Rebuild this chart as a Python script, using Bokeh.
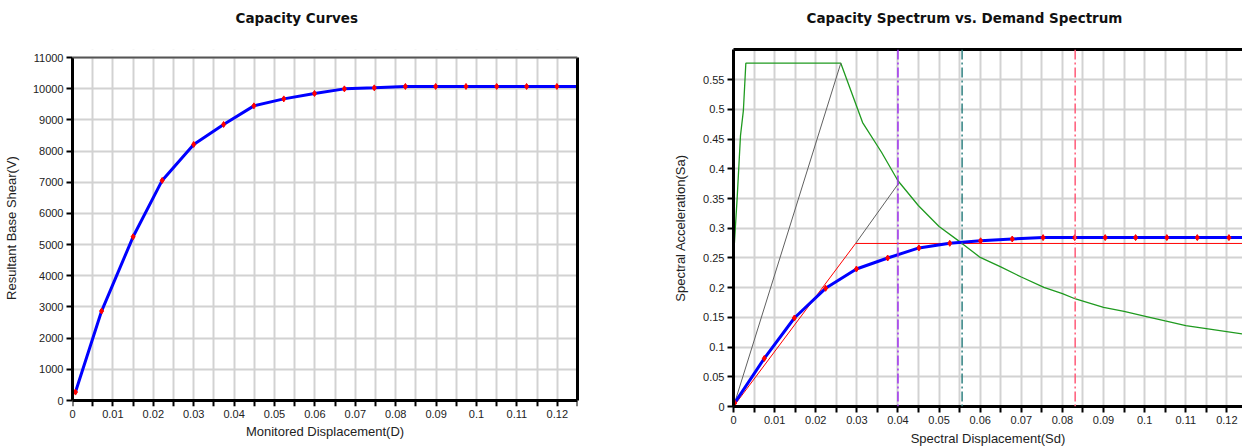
from bokeh.plotting import figure
from bokeh.models import FixedTicker, LinearAxis, Span, Range1d, BoxAnnotation
from bokeh.layouts import row
from bokeh.embed import file_html
from bokeh.resources import INLINE

# ---------------- data: capacity curve (left) ----------------
disp = [0.00074, 0.0072, 0.0150, 0.0222, 0.0300, 0.0374, 0.0449, 0.0523, 0.0599,
        0.0673, 0.0747, 0.0824, 0.0899, 0.0974, 0.1050, 0.1124, 0.1199]
shear = [270, 2869, 5250, 7058, 8212, 8853, 9449, 9673, 9846,
         9994, 10026, 10071, 10071, 10071, 10071, 10071, 10071]
disp_tail = [0.1270]
shear_tail = [10071]

# ---------------- data: capacity / demand spectrum (right) ----------------
sd = [0.0003, 0.0075, 0.0148, 0.0224, 0.0299, 0.0375, 0.0451, 0.0526, 0.0601,
      0.0678, 0.0753, 0.0830, 0.0904, 0.0978, 0.1054, 0.1128, 0.1205]
sa = [0.006, 0.081, 0.149, 0.199, 0.2315, 0.250, 0.267, 0.2747, 0.279,
      0.282, 0.2843, 0.2843, 0.2843, 0.2843, 0.2843, 0.2843, 0.2843]
sd_tail = [0.1280]
sa_tail = [0.2843]

demand_sd = [0.0, 0.0009, 0.0017, 0.0024, 0.0030, 0.0261, 0.0314, 0.0360, 0.0400,
             0.0450, 0.0500, 0.0555, 0.0600, 0.0650, 0.0700, 0.0755, 0.0800, 0.0832,
             0.0900, 0.0950, 0.1007, 0.1050, 0.1100, 0.1150, 0.1238, 0.1280]
demand_sa = [0.250, 0.352, 0.456, 0.498, 0.578, 0.578, 0.478, 0.428, 0.380,
             0.338, 0.303, 0.275, 0.251, 0.235, 0.218, 0.2005, 0.190, 0.181,
             0.167, 0.160, 0.151, 0.144, 0.136, 0.131, 0.122, 0.119]

bilinear_sd = [0.0, 0.0297, 0.1280]
bilinear_sa = [0.0, 0.2745, 0.2745]
elastic1_sd = [0.0, 0.0261]
elastic1_sa = [0.0, 0.578]
elastic2_sd = [0.0297, 0.0402]
elastic2_sa = [0.2745, 0.376]

marker_sd = [0.0400, 0.0556, 0.0831]
marker_colors = ["#a030f0", "#2f8080", "#ff5a78"]

# ---------------- ticks ----------------
x_ticks = [0.0, 0.01, 0.02, 0.03, 0.04, 0.05, 0.06, 0.07, 0.08, 0.09, 0.1, 0.11, 0.12]
x_tick_labels = ["0", "0.01", "0.02", "0.03", "0.04", "0.05", "0.06", "0.07", "0.08",
                 "0.09", "0.1", "0.11", "0.12"]
x_half_ticks = [0.005, 0.015, 0.025, 0.035, 0.045, 0.055, 0.065, 0.075, 0.085, 0.095,
                0.105, 0.115, 0.125]
v_ticks = [0, 1000, 2000, 3000, 4000, 5000, 6000, 7000, 8000, 9000, 10000, 11000]
v_tick_labels = ["0", "1000", "2000", "3000", "4000", "5000", "6000", "7000",
                 "8000", "9000", "10000", "11000"]
v_limits = [0, 11000]
sa_ticks = [0.0, 0.05, 0.1, 0.15, 0.2, 0.25, 0.3, 0.35, 0.4, 0.45, 0.5, 0.55]
sa_tick_labels = ["0", "0.05", "0.1", "0.15", "0.2", "0.25", "0.3", "0.35", "0.4",
                  "0.45", "0.5", "0.55"]

TICK_FONT = "Liberation Sans"
GRID = "#d2d2d2"


def style(p, yt, yl, xlabel, ylabel):
    p.outline_line_color = None
    p.background_fill_color = "white"
    p.border_fill_color = "white"
    p.xaxis.ticker = FixedTicker(ticks=x_ticks, minor_ticks=x_half_ticks)
    p.yaxis.ticker = FixedTicker(ticks=yt)
    p.xaxis.major_label_overrides = {t: l for t, l in zip(x_ticks, x_tick_labels)}
    p.yaxis.major_label_overrides = {t: l for t, l in zip(yt, yl)}
    for ax in (p.xaxis[0], p.yaxis[0]):
        ax.axis_line_width = 3
        ax.axis_line_color = "black"
        ax.major_tick_line_color = "black"
        ax.major_tick_line_width = 2
        ax.major_tick_out = 6
        ax.major_tick_in = 0
        ax.minor_tick_line_color = None
        ax.major_label_text_font = TICK_FONT
        ax.major_label_text_font_size = "11px"
        ax.major_label_text_color = "#222222"
        ax.major_label_standoff = 3
        ax.axis_label_text_font = TICK_FONT
        ax.axis_label_text_font_size = "13px"
        ax.axis_label_text_font_style = "normal"
        ax.axis_label_text_color = "#222222"
    p.xaxis.minor_tick_line_color = "black"
    p.xaxis.minor_tick_line_width = 2
    p.xaxis.minor_tick_out = 6
    p.xaxis.minor_tick_in = 0
    p.xaxis.axis_label = xlabel
    p.yaxis.axis_label = ylabel
    p.xgrid.ticker = FixedTicker(ticks=x_ticks, minor_ticks=x_half_ticks)
    p.ygrid.ticker = FixedTicker(ticks=yt)
    p.xgrid.grid_line_color = GRID
    p.xgrid.minor_grid_line_color = GRID
    p.ygrid.grid_line_color = GRID
    p.xgrid.grid_line_width = 2
    p.xgrid.minor_grid_line_width = 2
    p.ygrid.grid_line_width = 2
    p.title.text_font = "DejaVu Sans"
    p.title.text_font_style = "bold"
    p.title.text_font_size = "13.5px"
    p.title.text_color = "#111111"
    p.title.align = "left"
    p.title.vertical_align = "bottom"
    p.title.standoff = 0


def top_axis(color, width):
    # frame-top border line; its blank label reserves the gap below the title
    return LinearAxis(ticker=FixedTicker(ticks=[]),
                      major_tick_line_color=None, minor_tick_line_color=None,
                      axis_line_color=color, axis_line_width=width,
                      axis_label=" ", axis_label_text_font_size="10px",
                      axis_label_standoff=10)


def side_axis(color, width, bounds):
    return LinearAxis(ticker=FixedTicker(ticks=[]),
                      major_tick_line_color=None, minor_tick_line_color=None,
                      axis_line_color=color, axis_line_width=width, bounds=bounds)


# ---------------- left figure ----------------
# frame is shared in height with the right chart; the chart box 0..11000 sits inside it
v_per_px = 11000 / 343
left = figure(width=640, height=448, x_range=Range1d(0, 0.125),
              y_range=Range1d(-6 * v_per_px, 11000 + 8 * v_per_px),
              output_backend="svg", toolbar_location=None, title="Capacity Curves",
              min_border_left=72, min_border_right=63, min_border_top=49, min_border_bottom=42)
style(left, v_ticks, v_tick_labels, "Monitored Displacement(D)", "Resultant Base Shear(V)")
left.yaxis.axis_label_standoff = 11
# labels / title axis (no line, no ticks)
left.xaxis.axis_line_color = None
left.xaxis.major_tick_out = 0
left.xaxis.minor_tick_out = 0
left.xaxis.major_tick_line_color = None
left.xaxis.minor_tick_line_color = None
left.xaxis.major_label_standoff = 3
left.xaxis.axis_label_standoff = 3
# axis line + ticks drawn at V = 0 (tick marks only, no labels)
left.add_layout(LinearAxis(ticker=FixedTicker(ticks=[], minor_ticks=x_ticks + x_half_ticks),
                           fixed_location=v_limits[0],
                           axis_line_color="black", axis_line_width=3,
                           major_tick_line_color=None,
                           minor_tick_line_color="black", minor_tick_line_width=2,
                           minor_tick_out=6, minor_tick_in=0), "below")
left.yaxis.bounds = (v_limits[0], v_limits[1])
left.title.offset = 163
left.add_layout(BoxAnnotation(bottom=v_limits[1], fill_color="white", fill_alpha=1,
                              line_alpha=0, level="underlay"))
left.add_layout(BoxAnnotation(top=v_limits[0], fill_color="white", fill_alpha=1,
                              line_alpha=0, level="underlay"))
left.add_layout(top_axis(None, 1), "above")
left.add_layout(side_axis("black", 3, (v_limits[0], v_limits[1])), "right")
left.add_layout(Span(location=v_limits[1], dimension="width", line_color="#555555",
                     line_width=2))
left.line(disp + disp_tail, shear + shear_tail, line_color="#0000ff", line_width=3)
left.scatter(disp, shear, marker="diamond", size=6, fill_color="red", line_color="red")

# ---------------- right figure ----------------
right = figure(width=602, height=448, x_range=Range1d(0, 0.1238), y_range=Range1d(0, 0.601),
               output_backend="svg", toolbar_location=None,
               title="Capacity Spectrum vs. Demand Spectrum",
               min_border_left=93, min_border_right=0, min_border_top=49, min_border_bottom=42)
style(right, sa_ticks, sa_tick_labels, "Spectral Displacement(Sd)", "Spectral Acceleration(Sa)")
right.yaxis.axis_label_standoff = 12
right.xaxis.axis_label_standoff = 4
right.title.offset = 73
right.add_layout(top_axis("black", 3), "above")

for xv, c in zip(marker_sd, marker_colors):
    right.add_layout(Span(location=xv, dimension="height", line_color=c,
                          line_width=1.5, line_dash="10 3 2 3"))
right.line(demand_sd, demand_sa, line_color="#1f9a1f", line_width=1.3)
right.line(elastic1_sd, elastic1_sa, line_color="#606060", line_width=1)
right.line(elastic2_sd, elastic2_sa, line_color="#606060", line_width=1)
right.line(bilinear_sd, bilinear_sa, line_color="#ff0000", line_width=1)
right.line(sd + sd_tail, sa + sa_tail, line_color="#0000ff", line_width=3)
right.scatter(sd, sa, marker="diamond", size=6, fill_color="red", line_color="red")

layout = row(left, right)
open("out.html", "w").write(file_html(layout, INLINE))
